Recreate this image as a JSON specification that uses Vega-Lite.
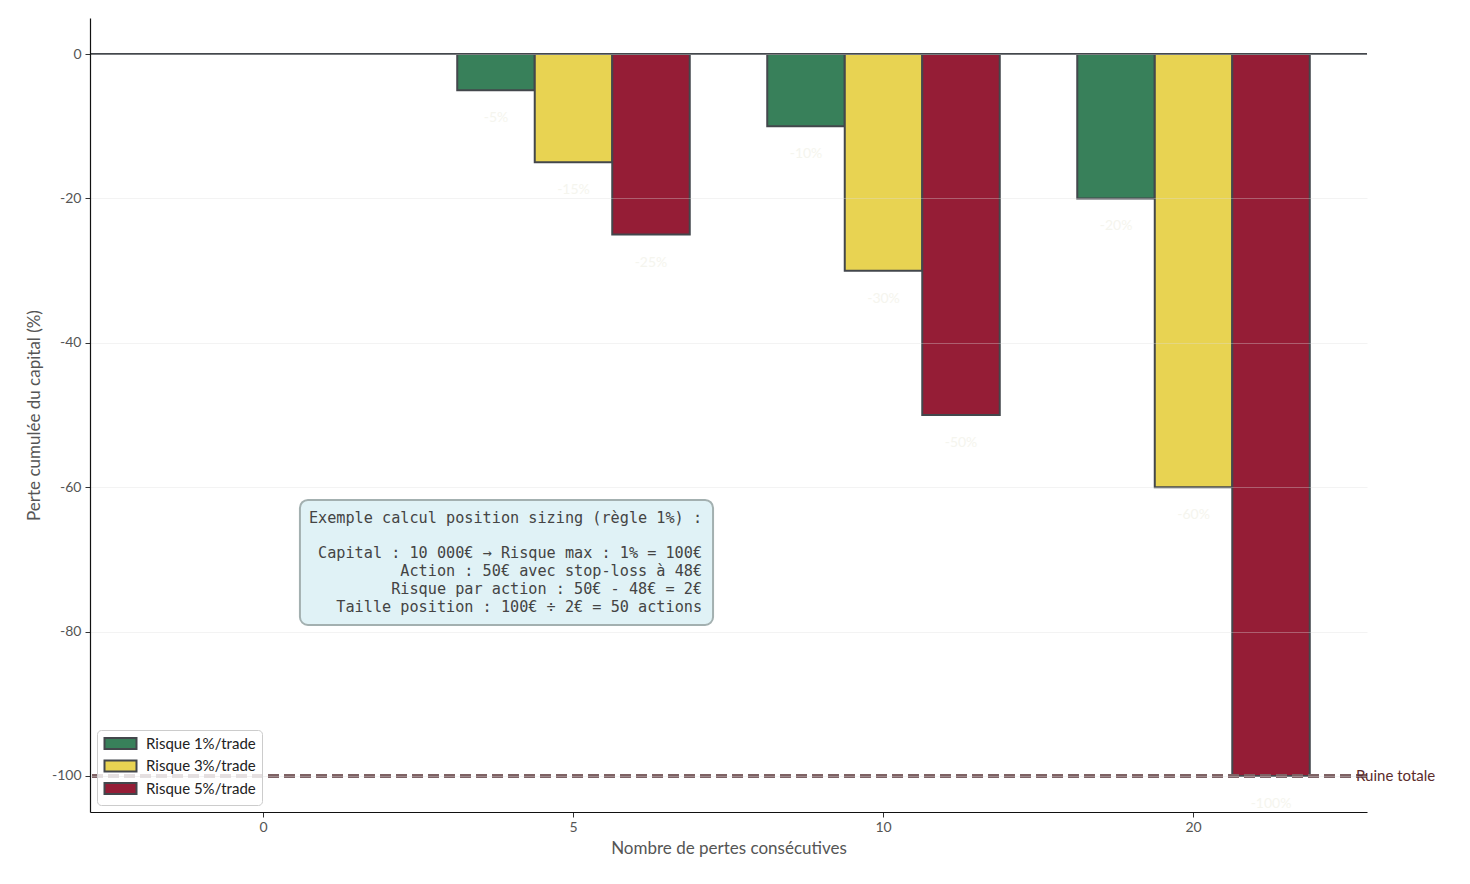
{
  "$schema": "https://vega.github.io/schema/vega-lite/v6.json",
  "width": 1277,
  "height": 794,
  "autosize": {"type": "none"},
  "padding": {"left": 90, "top": 18, "right": 103, "bottom": 72},
  "background": "white",
  "config": {
    "view": {"stroke": null},
    "font": "Lato",
    "axis": {
      "labelFont": "Lato",
      "titleFont": "Lato",
      "labelFontSize": 14,
      "labelColor": "#555555",
      "titleFontSize": 17,
      "titleFontWeight": "normal",
      "titleColor": "#555555",
      "domainColor": "#111111",
      "domainWidth": 1.2,
      "tickColor": "#333333",
      "tickSize": 5
    }
  },
  "datasets": {
    "pertes": [
      {"pertes": "0", "serie": "Risque 1%/trade", "perte": 0, "label": ""},
      {"pertes": "0", "serie": "Risque 3%/trade", "perte": 0, "label": ""},
      {"pertes": "0", "serie": "Risque 5%/trade", "perte": 0, "label": ""},
      {"pertes": "5", "serie": "Risque 1%/trade", "perte": -5, "label": "-5%"},
      {"pertes": "5", "serie": "Risque 3%/trade", "perte": -15, "label": "-15%"},
      {"pertes": "5", "serie": "Risque 5%/trade", "perte": -25, "label": "-25%"},
      {"pertes": "10", "serie": "Risque 1%/trade", "perte": -10, "label": "-10%"},
      {"pertes": "10", "serie": "Risque 3%/trade", "perte": -30, "label": "-30%"},
      {"pertes": "10", "serie": "Risque 5%/trade", "perte": -50, "label": "-50%"},
      {"pertes": "20", "serie": "Risque 1%/trade", "perte": -20, "label": "-20%"},
      {"pertes": "20", "serie": "Risque 3%/trade", "perte": -60, "label": "-60%"},
      {"pertes": "20", "serie": "Risque 5%/trade", "perte": -100, "label": "-100%"}
    ]
  },
  "layer": [
    {
      "data": {"name": "pertes"},
      "layer": [
        {
          "mark": {"type": "bar", "stroke": "#43474c", "strokeWidth": 2},
          "encoding": {
            "x": {
              "field": "pertes",
              "type": "ordinal",
              "sort": ["0", "5", "10", "20"],
              "scale": {"paddingInner": 0.25, "paddingOuter": 0.1846},
              "axis": {
                "title": "Nombre de pertes consécutives",
                "labelAngle": 0,
                "labelPadding": 3,
                "titlePadding": 6
              }
            },
            "xOffset": {
              "field": "serie",
              "type": "nominal",
              "scale": {"paddingInner": 0, "paddingOuter": 0}
            },
            "y": {
              "field": "perte",
              "type": "quantitative",
              "scale": {"domain": [-105, 5], "nice": false, "zero": false},
              "axis": {
                "title": "Perte cumulée du capital (%)",
                "values": [0, -20, -40, -60, -80, -100],
                "labelExpr": "datum.value + ''",
                "labelPadding": 4,
                "titlePadding": 8,
                "grid": true,
                "gridColor": "#dddddd",
                "gridOpacity": 0.35,
                "gridWidth": 1,
                "zindex": 1
              }
            },
            "color": {
              "field": "serie",
              "type": "nominal",
              "scale": {
                "domain": ["Risque 1%/trade", "Risque 3%/trade", "Risque 5%/trade"],
                "range": ["#38805a", "#e8d352", "#951d36"]
              },
              "legend": {
                "title": null,
                "orient": "bottom-left",
                "offset": 7,
                "padding": 6,
                "fillColor": "rgba(255,255,255,0.8)",
                "strokeColor": "#cccccc",
                "cornerRadius": 4,
                "labelFont": "Lato",
                "labelFontSize": 15,
                "labelColor": "#222222",
                "labelOffset": 28,
                "rowPadding": 1.5,
                "symbolType": "M-1,-0.92H4.333V0.92H-1Z",
                "symbolSize": 144,
                "symbolStrokeColor": "#43474c",
                "symbolStrokeWidth": 2,
                "symbolOpacity": 1
              }
            }
          }
        },
        {
          "mark": {
            "type": "text",
            "dy": 28,
            "baseline": "middle",
            "align": "center",
            "fontSize": 14,
            "color": "#f5f5ee"
          },
          "encoding": {
            "x": {"field": "pertes", "type": "ordinal", "sort": ["0", "5", "10", "20"]},
            "xOffset": {"field": "serie", "type": "nominal"},
            "y": {"field": "perte", "type": "quantitative"},
            "text": {"field": "label"}
          }
        },
        {
          "mark": {"type": "rule", "color": "#43474c", "strokeWidth": 2},
          "encoding": {"y": {"datum": 0, "type": "quantitative"}}
        },
        {
          "mark": {
            "type": "rule",
            "color": "#7e6264",
            "strokeWidth": 2.6,
            "strokeDash": [11, 5]
          },
          "encoding": {"y": {"datum": -100, "type": "quantitative"}}
        }
      ]
    },
    {
      "data": {
        "values": [
          {"fx": 0.1644, "fx2": 0.4879, "y": -61.77, "y2": -79.09}
        ]
      },
      "mark": {
        "type": "rect",
        "fill": "#e0f2f6",
        "stroke": "#a3b0b0",
        "strokeWidth": 2,
        "cornerRadius": 8
      },
      "encoding": {
        "x": {
          "field": "fx",
          "type": "quantitative",
          "scale": {"domain": [0, 1], "nice": false, "zero": false},
          "axis": null
        },
        "x2": {"field": "fx2"},
        "y": {"field": "y", "type": "quantitative"},
        "y2": {"field": "y2"}
      }
    },
    {
      "data": {
        "values": [
          {
            "fx": 0.4793,
            "y": -63.3,
            "texte": ["Exemple calcul position sizing (règle 1%) :"]
          },
          {
            "fx": 0.4793,
            "y": -68.15,
            "texte": [
              "Capital : 10 000€ → Risque max : 1% = 100€",
              "Action : 50€ avec stop-loss à 48€",
              "Risque par action : 50€ - 48€ = 2€",
              "Taille position : 100€ ÷ 2€ = 50 actions"
            ]
          }
        ]
      },
      "mark": {
        "type": "text",
        "font": "DejaVu Sans Mono",
        "fontSize": 15.2,
        "lineHeight": 18,
        "align": "right",
        "baseline": "top",
        "color": "#444444"
      },
      "encoding": {
        "x": {
          "field": "fx",
          "type": "quantitative",
          "scale": {"domain": [0, 1], "nice": false, "zero": false},
          "axis": null
        },
        "y": {"field": "y", "type": "quantitative"},
        "text": {"field": "texte"}
      }
    },
    {
      "data": {"values": [{"fx": 0.9914, "y": -100, "texte": "Ruine totale"}]},
      "mark": {
        "type": "text",
        "font": "Lato",
        "fontSize": 15,
        "align": "left",
        "baseline": "middle",
        "color": "#5b2b2b"
      },
      "encoding": {
        "x": {
          "field": "fx",
          "type": "quantitative",
          "scale": {"domain": [0, 1], "nice": false, "zero": false},
          "axis": null
        },
        "y": {"field": "y", "type": "quantitative"},
        "text": {"field": "texte"}
      }
    }
  ],
  "resolve": {"scale": {"x": "independent"}}
}
